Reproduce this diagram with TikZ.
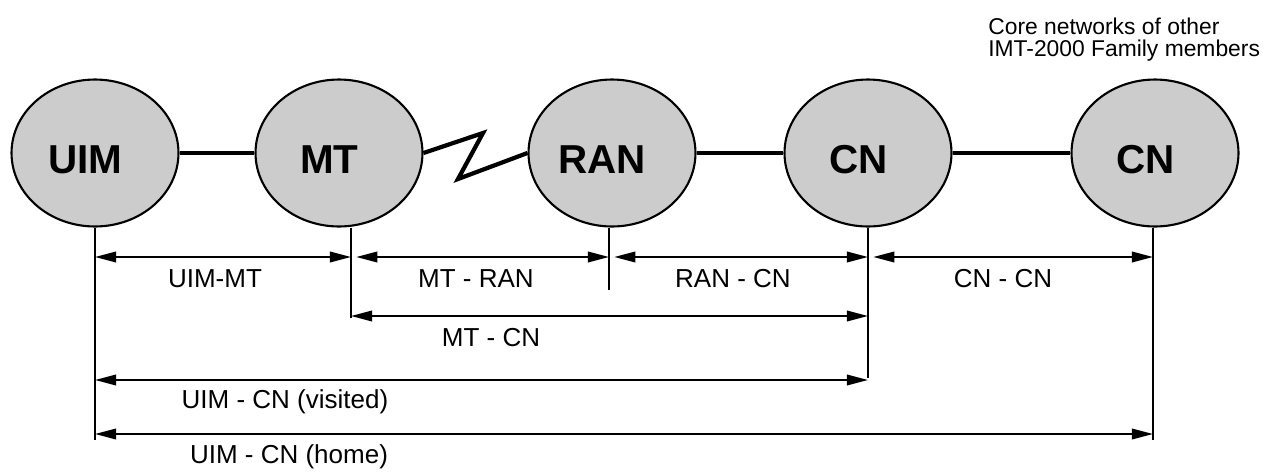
\documentclass[tikz,border=0pt]{standalone}
\usepackage{fontspec}
\setmainfont{Liberation Sans}
\usepackage{xcolor}
\usetikzlibrary{shapes.geometric}
\usetikzlibrary{arrows.meta}

\definecolor{unitgray}{gray}{0.8}

\tikzset{
    unit/.style={ellipse, draw, line width=1.2pt, fill=unitgray,
        minimum width=3.34cm, minimum height=2.94cm, inner sep=0pt},
    unitname/.style={font=\fontsize{23}{26}\selectfont\bfseries, xshift=-5.5pt, yshift=-4pt},
    link/.style={line width=2.4pt},
    tick/.style={line width=1.1pt},
    dim/.style={{Triangle[length=12pt,width=6pt]}-{Triangle[length=12pt,width=6pt]}, line width=1.1pt},
    dimlabel/.style={font=\fontsize{14.8}{17}\selectfont, inner sep=0pt},
}

\begin{document}
\begin{tikzpicture}[x=0.02cm, y=-0.02cm]
    \useasboundingbox (0,0) rectangle (1278,471);

    % network elements
    \node[unit, label={[unitname]center:UIM}] (uim) at (95,153) {};
    \node[unit, label={[unitname]center:MT}] (mt) at (339,153) {};
    \node[unit, label={[unitname]center:RAN}] (ran) at (612,153) {};
    \node[unit, label={[unitname]center:CN}] (cnv) at (868,153) {};
    \node[unit, label={[unitname]center:CN}] (cnh) at (1155,153) {};

    \node[font=\fontsize{13}{12.5}\selectfont, align=left, inner sep=0pt, anchor=north west] (other) at (988,18)
        {Core networks of other\\IMT-2000 Family members};

    % links
    \coordinate (zz1) at (483,133);
    \coordinate (zz2) at (458,179);
    \draw[link] (uim) -- (mt);
    \draw[link, line join=miter] (mt.east) -- (zz1) -- (zz2) -- (ran.west);
    \draw[link] (ran) -- (cnv);
    \draw[link] (cnv) -- (cnh);

    % reference points
    \coordinate (t-uim) at (95,440);
    \coordinate (t-mt) at (351,318);
    \coordinate (t-ran) at (609,290);
    \coordinate (t-cnv) at (868,378);
    \coordinate (t-cnh) at (1153,440);
    \foreach \n in {uim,mt,ran,cnv,cnh} {
        \draw[tick] (\n.south -| t-\n) -- (t-\n);
    }

    \coordinate (r1) at (0,257);
    \coordinate (r2) at (0,316);
    \coordinate (r3) at (0,380);
    \coordinate (r4) at (0,434);

    \draw[dim] (t-uim |- r1) -- (t-mt |- r1);
    \foreach \a/\b in {mt/ran,ran/cnv,cnv/cnh} {
        \draw[dim, shorten <=3pt] (t-\a |- r1) -- (t-\b |- r1);
    }
    \draw[dim] (t-mt |- r2) -- (t-cnv |- r2);
    \draw[dim] (t-uim |- r3) -- (t-cnv |- r3);
    \draw[dim] (t-uim |- r4) -- (t-cnh |- r4);

    \node[dimlabel] (l-uimmt) at (215,279) {UIM-MT};
    \node[dimlabel] (l-mtran) at (476,279) {MT - RAN};
    \node[dimlabel] (l-rancn) at (733,279) {RAN - CN};
    \node[dimlabel] (l-cncn) at (1003,279) {CN - CN};
    \node[dimlabel] (l-mtcn) at (491,338) {MT - CN};
    \node[dimlabel] (l-visited) at (285,402) {UIM - CN (visited)};
    \node[dimlabel] (l-home) at (289,457) {UIM - CN (home)};
\end{tikzpicture}
\end{document}
